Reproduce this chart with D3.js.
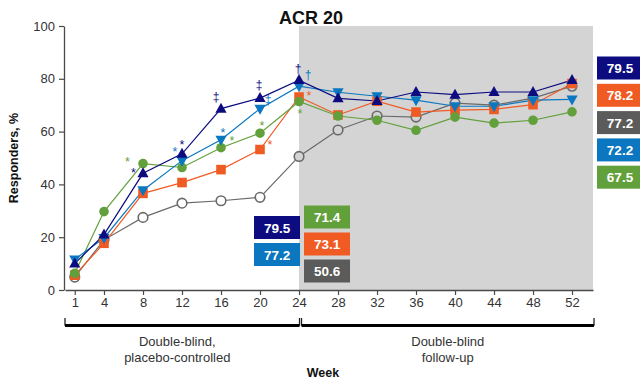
<!DOCTYPE html>
<html>
<head>
<meta charset="utf-8">
<script src="https://cdn.jsdelivr.net/npm/d3@7"></script>
<style>
  html, body { margin: 0; padding: 0; background: #fff; }
  svg { display: block; font-family: "Liberation Sans", Arial, sans-serif; }
</style>
</head>
<body>
<svg id="chart" width="640" height="380"></svg>
<script>
// ACR 20 response rate by study week, five treatment arms
const weeks = [1, 4, 8, 12, 16, 20, 24, 28, 32, 36, 40, 44, 48, 52];
const seriesKeys = ["gray", "orange", "green", "lightblue", "navy"];
const navyValues      = [10.0, 21.0, 44.2, 51.6, 68.7, 72.7, 79.5, 72.6, 71.6, 75.0, 74.0, 75.0, 75.0, 79.5];
const lightblueValues = [11.6, 19.7, 37.8, 49.0, 56.9, 68.7, 77.2, 74.9, 73.4, 71.9, 69.6, 69.6, 71.9, 72.2];
const orangeValues    = [5.6, 17.7, 36.6, 40.7, 45.6, 53.2, 73.1, 66.3, 71.5, 67.4, 68.1, 68.4, 70.2, 78.2];
const greenValues     = [6.3, 29.7, 47.9, 46.4, 53.9, 59.4, 71.4, 65.9, 64.3, 60.5, 65.5, 63.2, 64.3, 67.5];
const grayValues      = [4.9, 19.0, 27.5, 32.9, 33.8, 35.1, 50.6, 60.6, 65.9, 65.5, 70.8, 70.0, 72.7, 77.2];
const yTicks = [0, 20, 40, 60, 80, 100];

// significance markers: week, series, glyph
const annoWeeks  = [8, 8, 12, 12, 16, 16, 16, 20, 20, 20, 20, 24, 24, 24, 24];
const annoSeries = ["green", "navy", "lightblue", "navy", "navy", "lightblue", "green",
                    "navy", "lightblue", "green", "orange", "navy", "lightblue", "orange", "green"];
const annoGlyphs = ["*", "*", "*", "*", "\u2021", "*", "*", "\u2021", "\u2021", "*", "*",
                    "\u2020", "\u2020", "*", "*"];

// value callouts at week 24 and week 52
const wk24LeftSeries  = ["navy", "lightblue"];
const wk24RightSeries = ["green", "orange", "gray"];
const wk52Series      = ["navy", "orange", "gray", "lightblue", "green"];

const valuesByKey = {
  navy: navyValues, lightblue: lightblueValues, orange: orangeValues,
  green: greenValues, gray: grayValues
};

// ---- styling / layout ----
const colors = {
  navy: "#0c0c80", lightblue: "#0b77c0", orange: "#f05b23",
  green: "#62a03c", gray: "#6a6a6a"
};
const boxColors = { ...colors, gray: "#5b5b5b" };
const markerShape = {
  navy: "up", lightblue: "down", orange: "square", green: "circle", gray: "open"
};
// glyph offsets (px) from the data point they refer to
const annoOffsets = [[-15.5, -5], [-9.5, -4], [-7, -12], [0, -12], [-5, -11], [2, -10.5], [11, -9.5],
                     [-1, -13], [8, -8], [2, -10.5], [10, -8], [-1, -11], [9, -10.5], [10, -4], [1, 9]];

const svg = d3.select("#chart");
const x = d3.scaleLinear().domain([0, 54.15]).range([65, 593]);
const y = d3.scaleLinear().domain([0, 100]).range([290, 26]);
const axisColor = "#4a4a4a";
const textColor = "#333";

// follow-up shading
svg.append("rect")
  .attr("x", x(24)).attr("y", y(100))
  .attr("width", x.range()[1] - x(24)).attr("height", y(0) - y(100))
  .attr("fill", "#d4d4d4");

// title
svg.append("text")
  .attr("x", 311).attr("y", 24)
  .attr("text-anchor", "middle")
  .attr("font-size", 18).attr("font-weight", "bold").attr("fill", "#111")
  .text("ACR 20");

// y axis
const yAxis = svg.append("g")
  .attr("transform", `translate(${x(0) - 1},0)`)
  .call(d3.axisLeft(y).tickValues(yTicks).tickSize(5).tickPadding(4).tickSizeOuter(0));
yAxis.select(".domain").attr("stroke", axisColor).attr("stroke-width", 1.3);
yAxis.selectAll(".tick line").attr("stroke", axisColor).attr("stroke-width", 1.2);
yAxis.selectAll(".tick text").attr("font-size", 13).attr("fill", textColor)
  .attr("font-family", "Liberation Sans, Arial, sans-serif");

// x axis
const xAxis = svg.append("g")
  .attr("transform", `translate(0,${y(0)})`)
  .call(d3.axisBottom(x).tickValues(weeks).tickSize(5).tickPadding(3).tickSizeOuter(0));
xAxis.select(".domain").attr("stroke", axisColor).attr("stroke-width", 1.3);
xAxis.selectAll(".tick line").attr("stroke", axisColor).attr("stroke-width", 1.2);
xAxis.selectAll(".tick text").attr("font-size", 13).attr("fill", textColor)
  .attr("font-family", "Liberation Sans, Arial, sans-serif");

// axis titles
svg.append("text")
  .attr("transform", `translate(18,${y(50)}) rotate(-90)`)
  .attr("text-anchor", "middle")
  .attr("font-size", 12.5).attr("font-weight", "bold").attr("fill", "#111")
  .text("Responders, %");
svg.append("text")
  .attr("x", 323).attr("y", 377)
  .attr("text-anchor", "middle")
  .attr("font-size", 12.5).attr("font-weight", "bold").attr("fill", "#111")
  .text("Week");

// study phase brackets
const phases = [
  { from: 0, to: 24, lines: ["Double-blind,", "placebo-controlled"] },
  { from: 24, to: 54.15, lines: ["Double-blind", "follow-up"] }
];
const brY = 325;
phases.forEach((p, i) => {
  const x0 = x(p.from) + (i === 0 ? 0 : 2.5);
  const x1 = x(p.to) + (i === 0 ? 0.5 : 1);
  const g = svg.append("g");
  g.append("path")
    .attr("d", `M${x0},${brY - 7}V${brY}H${x1}V${brY - 7}`)
    .attr("fill", "none").attr("stroke", "#222").attr("stroke-width", 1.3);
  g.append("line")
    .attr("x1", x0).attr("x2", x1).attr("y1", brY + 0.5).attr("y2", brY + 0.5)
    .attr("stroke", "#000").attr("stroke-width", 3.2);
  const cx = (x0 + x1) / 2 - (i === 0 ? 5 : 0);
  g.selectAll("text").data(p.lines).join("text")
    .attr("x", cx).attr("y", (d, j) => 346 + j * 15.5)
    .attr("text-anchor", "middle").attr("font-size", 13).attr("fill", textColor)
    .text(d => d);
});

// series lines
const line = d3.line().x(d => x(d[0])).y(d => y(d[1]));
seriesKeys.forEach(key => {
  const pts = weeks.map((w, i) => [w, valuesByKey[key][i]]);
  svg.append("path")
    .attr("d", line(pts))
    .attr("fill", "none")
    .attr("stroke", colors[key])
    .attr("stroke-width", 1.2);
});

// series markers
function markerPath(shape, cx, cy) {
  if (shape === "up") {
    return `M${cx},${cy - 6}L${cx + 5.6},${cy + 4}L${cx - 5.6},${cy + 4}Z`;
  }
  if (shape === "down") {
    return `M${cx},${cy + 6}L${cx + 5.6},${cy - 4}L${cx - 5.6},${cy - 4}Z`;
  }
  if (shape === "square") {
    return `M${cx - 4.8},${cy - 4.8}h9.6v9.6h-9.6Z`;
  }
  const r = 4.8;
  return `M${cx - r},${cy}a${r},${r} 0 1,0 ${2 * r},0a${r},${r} 0 1,0 ${-2 * r},0Z`;
}
seriesKeys.forEach(key => {
  const shape = markerShape[key];
  svg.append("g").selectAll("path")
    .data(weeks.map((w, i) => [w, valuesByKey[key][i]]))
    .join("path")
    .attr("d", d => markerPath(shape, x(d[0]), y(d[1])))
    .attr("fill", d => shape === "open" ? (d[0] < 24 ? "#fff" : "#d4d4d4") : colors[key])
    .attr("stroke", shape === "open" ? colors[key] : "none")
    .attr("stroke-width", shape === "open" ? 1.6 : 0);
});

// significance glyphs
annoWeeks.forEach((w, i) => {
  const key = annoSeries[i];
  const v = valuesByKey[key][weeks.indexOf(w)];
  const glyph = annoGlyphs[i];
  const fs = glyph === "*" ? 12.5 : 12;
  // baseline shift so that the glyph's visual centre lands on the offset point
  const shift = glyph === "*" ? fs * 0.58 : fs * 0.3;
  svg.append("text")
    .attr("x", x(w) + annoOffsets[i][0])
    .attr("y", y(v) + annoOffsets[i][1] + shift)
    .attr("text-anchor", "middle")
    .attr("font-size", fs)
    .attr("fill", colors[key])
    .text(glyph);
});

// value callout boxes
function valueBox(key, value, bx, by) {
  const bw = 46, bh = 23;
  svg.append("rect")
    .attr("x", bx).attr("y", by).attr("width", bw).attr("height", bh)
    .attr("fill", boxColors[key]);
  svg.append("text")
    .attr("x", bx + bw / 2).attr("y", by + bh / 2 + 5)
    .attr("text-anchor", "middle")
    .attr("font-size", 13.5).attr("font-weight", "bold").attr("fill", "#fff")
    .text(value.toFixed(1));
}
const i24 = weeks.indexOf(24);
const i52 = weeks.indexOf(52);
wk24LeftSeries.forEach((key, j) => valueBox(key, valuesByKey[key][i24], x(24) - 45, 216 + j * 27));
wk24RightSeries.forEach((key, j) => valueBox(key, valuesByKey[key][i24], x(24) + 5, 205.5 + j * 27));
wk52Series.forEach((key, j) => valueBox(key, valuesByKey[key][i52], x.range()[1] + 4, 56.5 + j * 27.3));
</script>
</body>
</html>
